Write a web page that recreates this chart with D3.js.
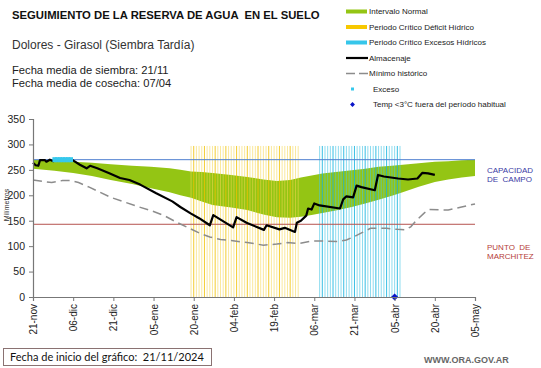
<!DOCTYPE html>
<html><head><meta charset="utf-8">
<script src="https://cdn.jsdelivr.net/npm/d3@7"></script>
<style>
html,body{margin:0;padding:0;background:#fff;}
svg{display:block;font-family:"Liberation Sans",Arial,sans-serif;}
</style></head>
<body>
<svg id="c" width="541" height="368"></svg>
<script>
// ---------- DATA ----------
const startDate = new Date(Date.UTC(2024, 10, 21));
const tickDays = [0, 15, 30, 45, 60, 75, 90, 105, 120, 135, 150, 165];
const tickLabels = ["21-nov","06-dic","21-dic","05-ene","20-ene","04-feb","19-feb","06-mar","21-mar","05-abr","20-abr","05-may"];
const yTicks = [0, 50, 100, 150, 200, 250, 300, 350];

// Intervalo normal (banda)
const bandDays  = [0, 8, 15, 22, 29, 37, 44, 51, 55, 59, 63, 67, 74, 80, 86, 91, 96, 100, 104, 108, 113, 119, 124, 129, 134, 138, 144, 150, 155, 160, 165];
const bandUpper = [270,268,266,264,261,258,256,253,250,247,246,244,240,236,231,228,230,235,239,243,246,249,252,256,258,260,263,266,267,269,270];
const bandLower = [252,248,244,238,230,222,214,206,200,195,188,181,176,171,162,157,156,158,161,165,170,177,184,191,199,206,217,226,231,235,238];

// Mínimo histórico
const minDays = [0,4,7,11,14,17,21,25,29,34,39,44,49,54,58,62,66,70,74,80,86,91,95,99,104,109,114,117,120,123,126,132,136,139,141,143,146,148,155,160,165];
const minVals = [230,227,225,229,229,225,216,206,196,187,178,170,160,146,136,126,118,113,111,107,102,104,107,105,110,110,109,112,119,127,135,135,133,132,138,150,165,172,171,177,183];

// Almacenaje
const almDays = [0,1,2,2.6,4.5,5,6.3,7.6,8.5,14.5,17.5,20,21.3,24,28.7,32.5,36,40,46,52,55,59,62,66,67.3,74.7,76,79.7,86.2,87.2,92,94,97.8,98.5,100,102,102.7,104,105,107,114.6,115.8,117,119.5,120.8,122.6,127.6,128.8,131,136.3,140,143.5,145.3,147.5,150];
const almVals = [264,259,258,269,269,266,270,267,270,270,260,253,258,253,243,234,230,221,204,188,177,164,155,141,161,137,157,146,132,141,133,136,128,146,150,160,174,172,184,180,174,192,198,196,219,216,210,240,237,233,231,233,244,243,240];

// Exceso (puntos)
const excesoDays = [8,9,10,11,12,13,14];
const excesoVals = [270,270,270,270,270,270,270];

// Periodos críticos (días con línea vertical)
const deficitDays = d3.range(59, 100);
const excesoCritDays = d3.range(107, 138);
const periodTop = 297;

// Temp < 3°C
const tempDays = [135];
const tempVals = [0];

const capacidadCampo = 270;
const puntoMarchitez = 143;

const legendItems = ["Intervalo Normal","Periodo Crítico Déficit Hídrico","Periodo Crítico Excesos Hídricos","Almacenaje","Mínimo histórico","Exceso","Temp <3°C fuera del período habitual"];

// ---------- CHART ----------
const svg = d3.select("#c");
const dayDate = d => startDate.getTime() + d * 86400000;
const x = d3.scaleUtc().domain([startDate, new Date(dayDate(165))]).range([33, 475]);
const X = d => x(new Date(dayDate(d)));
const y = d3.scaleLinear().domain([0, 350]).range([297, 119]);

// band
const band = bandDays.map((d, i) => ({d, u: bandUpper[i], l: bandLower[i]}));
svg.append("path").datum(band)
  .attr("fill", "#94c514")
  .attr("d", d3.area().x(p => X(p.d)).y0(p => y(p.l)).y1(p => y(p.u)));

// period lines
svg.append("g").selectAll("line").data(deficitDays).join("line")
  .attr("x1", d => X(d)).attr("x2", d => X(d))
  .attr("y1", y(0)).attr("y2", y(periodTop))
  .attr("stroke", (d,i) => i % 4 === 1 ? "#f2c200" : "#f7d850")
  .attr("stroke-width", 1).attr("opacity", (d,i) => i % 4 === 1 ? 0.8 : 0.55);
svg.append("g").selectAll("line").data(excesoCritDays).join("line")
  .attr("x1", d => X(d)).attr("x2", d => X(d))
  .attr("y1", y(0)).attr("y2", y(periodTop))
  .attr("stroke", (d,i) => i % 4 === 1 ? "#16b4e0" : "#44c6e6")
  .attr("stroke-width", 1).attr("opacity", (d,i) => i % 4 === 1 ? 0.85 : 0.6);

// reference lines
svg.append("line").attr("x1", 33).attr("x2", 475)
  .attr("y1", y(capacidadCampo)).attr("y2", y(capacidadCampo))
  .attr("stroke", "#4f7fd0").attr("stroke-width", 1);
svg.append("line").attr("x1", 33).attr("x2", 475)
  .attr("y1", y(puntoMarchitez)).attr("y2", y(puntoMarchitez))
  .attr("stroke", "#b5524e").attr("stroke-width", 1);

// min historico
svg.append("path").datum(minDays.map((d,i)=>[d,minVals[i]]))
  .attr("fill","none").attr("stroke","#8c8c8c").attr("stroke-width",1.5)
  .attr("stroke-dasharray","9,5")
  .attr("d", d3.line().x(p=>X(p[0])).y(p=>y(p[1])));

// almacenaje
svg.append("path").datum(almDays.map((d,i)=>[d,almVals[i]]))
  .attr("fill","none").attr("stroke","#000").attr("stroke-width",2.2)
  .attr("stroke-linejoin","round")
  .attr("d", d3.line().x(p=>X(p[0])).y(p=>y(p[1])));

// exceso points
svg.append("g").selectAll("rect").data(excesoDays).join("rect")
  .attr("x", d => X(d) - 2).attr("y", (d,i) => y(excesoVals[i]) - 2.5)
  .attr("width", 4.5).attr("height", 5).attr("fill", "#36c8ec");

// temp diamond
svg.append("g").selectAll("path").data(tempDays).join("path")
  .attr("transform", (d,i) => `translate(${X(d)},${y(tempVals[i])}) rotate(45)`)
  .attr("d", d3.symbol(d3.symbolSquare, 26)())
  .attr("fill", "#0a14c8");

// axes
const yAxis = svg.append("g").attr("transform","translate(33,0)")
  .call(d3.axisLeft(y).tickValues(yTicks).tickSize(4).tickPadding(4));
const xAxis = svg.append("g").attr("transform",`translate(0,${y(0)})`)
  .call(d3.axisBottom(x).tickValues(tickDays.map(d=>new Date(dayDate(d))))
    .tickFormat((d,i)=>tickLabels[i]).tickSize(4));
[yAxis, xAxis].forEach(a => {
  a.select(".domain").attr("stroke","#777").attr("stroke-width",1.2);
  a.selectAll(".tick line").attr("stroke","#777");
});
yAxis.selectAll("text").attr("font-size","10.5px").attr("fill","#222")
  .attr("font-family","Liberation Sans, Arial, sans-serif");
xAxis.selectAll("text").attr("font-size","10px").attr("fill","#222")
  .attr("font-family","Liberation Sans, Arial, sans-serif")
  .attr("text-anchor","end").attr("transform","rotate(-90)")
  .attr("x", -7).attr("y", 0).attr("dy","0.35em");

// y label
svg.append("text").attr("transform","translate(9,205) rotate(-90)")
  .attr("text-anchor","middle").attr("font-size","7px").attr("fill","#333")
  .text("Milímetros");

// titles
svg.append("text").attr("x",12).attr("y",19).attr("font-size","11.3px")
  .attr("font-weight","bold").attr("fill","#111")
  .text("SEGUIMIENTO DE LA RESERVA DE AGUA  EN EL SUELO");
svg.append("text").attr("x",12).attr("y",49).attr("font-size","12px").attr("fill","#333")
  .text("Dolores - Girasol (Siembra Tardía)");
svg.append("text").attr("x",12).attr("y",74).attr("font-size","11.2px").attr("fill","#222")
  .text("Fecha media de siembra: 21/11");
svg.append("text").attr("x",12).attr("y",87).attr("font-size","11.2px").attr("fill","#222")
  .text("Fecha media de cosecha: 07/04");

// legend
const lg = svg.append("g");
const rowY = i => 11.5 + i * 15.5;
legendItems.forEach((t, i) => {
  lg.append("text").attr("x", i >= 5 ? 373 : 369).attr("y", rowY(i)).attr("dy","0.35em")
    .attr("font-size","8px").attr("fill","#222").text(t);
});
lg.append("rect").attr("x",346).attr("y",rowY(0)-2).attr("width",21).attr("height",4).attr("fill","#94c514");
lg.append("rect").attr("x",346).attr("y",rowY(1)-2).attr("width",21).attr("height",4).attr("fill","#f7c800");
lg.append("rect").attr("x",346).attr("y",rowY(2)-2).attr("width",21).attr("height",4).attr("fill","#36c6ea");
lg.append("line").attr("x1",346).attr("x2",368).attr("y1",rowY(3)).attr("y2",rowY(3)).attr("stroke","#000").attr("stroke-width",2.2);
lg.append("line").attr("x1",346).attr("x2",368).attr("y1",rowY(4)).attr("y2",rowY(4))
  .attr("stroke","#8c8c8c").attr("stroke-width",1.5).attr("stroke-dasharray","9,4");
lg.append("rect").attr("x",351).attr("y",rowY(5)-1.5).attr("width",3).attr("height",3).attr("fill","#36c8ec");
lg.append("path").attr("transform",`translate(352.5,${rowY(6)}) rotate(45)`)
  .attr("d", d3.symbol(d3.symbolSquare, 12)()).attr("fill","#0a14c8");

// right labels
svg.append("text").attr("x",487).attr("y",173).attr("font-size","8px").attr("fill","#3b3ba5").text("CAPACIDAD");
svg.append("text").attr("x",487).attr("y",182).attr("font-size","8px").attr("fill","#3b3ba5").text("DE  CAMPO");
svg.append("text").attr("x",487).attr("y",249.5).attr("font-size","8px").attr("fill","#b5403a").text("PUNTO  DE");
svg.append("text").attr("x",487).attr("y",258.5).attr("font-size","8px").attr("fill","#b5403a").text("MARCHITEZ");

// footer
svg.append("rect").attr("x",3.5).attr("y",348.5).attr("width",208).attr("height",17)
  .attr("fill","none").attr("stroke","#8a7272").attr("stroke-width",1);
svg.append("text").attr("x",10).attr("y",361).attr("font-size","11px").attr("fill","#111")
  .attr("font-family","Lato, 'Open Sans', sans-serif")
  .text("Fecha de inicio del gráfico:  21/11/2024");
svg.append("text").attr("x",424).attr("y",363).attr("font-size","9px").attr("font-weight","bold")
  .attr("fill","#666").text("WWW.ORA.GOV.AR");
svg.selectAll("text").style("white-space","pre");
</script>
</body></html>
